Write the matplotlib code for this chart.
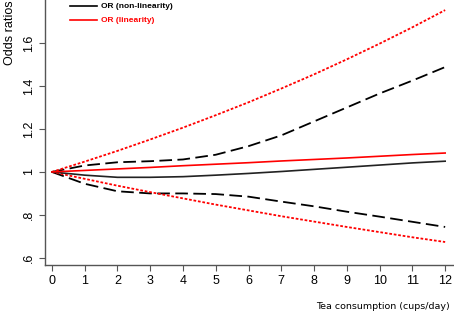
import matplotlib
matplotlib.use("Agg")
import matplotlib.pyplot as plt

cups = [0, 1, 2, 3, 4, 5, 6, 7, 8, 9, 10, 11, 12]

# non-linear model
or_nl = [1, 0.985, 0.975, 0.975, 0.978, 0.985, 0.993, 1.002, 1.012, 1.022, 1.032, 1.042, 1.05]
or_nl_hi = [1, 1.03, 1.045, 1.05, 1.058, 1.08, 1.12, 1.17, 1.235, 1.30, 1.365, 1.425, 1.488]
or_nl_lo = [1, 0.945, 0.91, 0.90, 0.90, 0.897, 0.885, 0.862, 0.84, 0.815, 0.792, 0.768, 0.744]

# linear model
or_lin = [1, 1.007, 1.014, 1.021, 1.029, 1.036, 1.043, 1.051, 1.058, 1.065, 1.073, 1.081, 1.088]
or_lin_hi = [1, 1.048, 1.098, 1.151, 1.206, 1.264, 1.324, 1.388, 1.454, 1.524, 1.597, 1.673, 1.753]
or_lin_lo = [1, 0.968, 0.936, 0.906, 0.877, 0.848, 0.821, 0.794, 0.769, 0.744, 0.720, 0.696, 0.674]

yticks = [0.6, 0.8, 1.0, 1.2, 1.4, 1.6]
ylabels = [".6", ".8", "1", "1.2", "1.4", "1.6"]

plt.rcParams['font.family'] = ['Liberation Sans', 'DejaVu Sans']

fig = plt.figure(figsize=(4.54, 3.14), dpi=100)
ax = fig.add_axes([45 / 454, 49 / 314, 409 / 454, 265 / 314])

ax.plot(cups, or_nl_hi, color='black', lw=1.3, dashes=(7, 3))
ax.plot(cups, or_nl_lo, color='black', lw=1.3, dashes=(7, 3))
ax.plot(cups, or_lin_hi, color='red', lw=1.3, dashes=(1.5, 1))
ax.plot(cups, or_lin_lo, color='red', lw=1.3, dashes=(1.5, 1))
ax.plot(cups, or_nl, color='#222222', lw=1.2)
ax.plot(cups, or_lin, color='red', lw=1.2)

ax.set_xlim(-0.21, 12.27)
ax.set_ylim(0.567, 1.8)
ax.set_xticks(cups)
ax.set_xticklabels([str(c) for c in cups], fontsize=9)
ax.set_yticks(yticks)
ax.set_yticklabels(ylabels, fontsize=9, rotation=90, va='center')

for s in ['top', 'right']:
    ax.spines[s].set_visible(False)
for s in ['left', 'bottom']:
    ax.spines[s].set_color('#555555')
    ax.spines[s].set_linewidth(1.0)
ax.tick_params(length=4, color='#555555', pad=3)

fig.text(0.022, 1.0, "Odds ratios", rotation=90, ha='center', va='top', fontsize=9)
fig.text(0.99, 0.025, "Tea consumption (cups/day)", ha='right', va='center',
         fontsize=6.8, family=['DejaVu Sans'])

# legend
fig.lines.append(plt.Line2D([70 / 454, 97 / 454], [1 - 6 / 314, 1 - 6 / 314],
                            color='black', lw=1.2, transform=fig.transFigure))
fig.lines.append(plt.Line2D([70 / 454, 97 / 454], [1 - 20 / 314, 1 - 20 / 314],
                            color='red', lw=1.2, transform=fig.transFigure))
fig.text(101 / 454, 1 - 6 / 314, "OR (non-linearity)", fontsize=6, weight='bold',
         va='center')
fig.text(101 / 454, 1 - 20 / 314, "OR (linearity)", fontsize=6, weight='bold',
         color='red', va='center')

fig.savefig("out.png", dpi=100)
